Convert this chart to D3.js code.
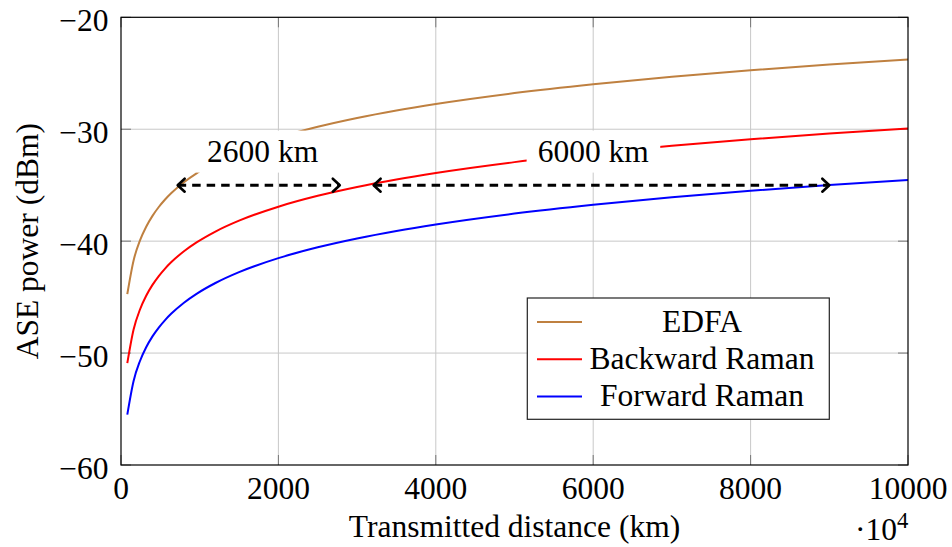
<!DOCTYPE html>
<html>
<head>
<meta charset="utf-8">
<script src="https://cdn.jsdelivr.net/npm/d3@7"></script>
<style>
  html, body { margin: 0; padding: 0; background: #fff; }
  svg { display: block; font-family: "Liberation Serif", "DejaVu Serif", serif; }
</style>
</head>
<body>
<svg id="chart" width="952" height="547"></svg>
<script>
// ---- data ----
const distance = [80,160,240,320,400,480,560,640,800,960,1200,1500,2000,2500,3000,3500,4000,5000,6000,7000,8000,9000,10000];
const edfa = [-44.73,-41.72,-39.96,-38.71,-37.74,-36.95,-36.28,-35.70,-34.73,-33.94,-32.97,-32.00,-30.75,-29.78,-28.99,-28.32,-27.74,-26.77,-25.98,-25.31,-24.73,-24.22,-23.76];
const backwardRaman = [-50.90,-47.89,-46.13,-44.88,-43.91,-43.12,-42.45,-41.87,-40.90,-40.11,-39.14,-38.17,-36.92,-35.95,-35.16,-34.49,-33.91,-32.94,-32.15,-31.48,-30.90,-30.39,-29.93];
const forwardRaman = [-55.50,-52.49,-50.73,-49.48,-48.51,-47.72,-47.05,-46.47,-45.50,-44.71,-43.74,-42.77,-41.52,-40.55,-39.76,-39.09,-38.51,-37.54,-36.75,-36.08,-35.50,-34.99,-34.53];
const seriesNames = ["EDFA", "Backward Raman", "Forward Raman"];
const xTicks = [0, 2000, 4000, 6000, 8000, 10000];
const yTicks = [-60, -50, -40, -30, -20];
const arrowStart = [720, 3210];
const arrowEnd = [2780, 9000];
const arrowLevel = [-35, -35];
const noteText = ["2600 km", "6000 km"];
const noteX = [1800, 6000];
const noteY = [-32, -32];

// ---- layout ----
const W = 952, H = 547;
const L = 121, R = 908, T = 17.3, B = 465;
const FS = 31.5;
const colors = ["#bf8040", "#ff0000", "#0000ff"];

const svg = d3.select("#chart");
const x = d3.scaleLinear().domain([0, 10000]).range([L, R]);
const y = d3.scaleLinear().domain([-60, -20]).range([B, T]);

// grid
const g = svg.append("g");
g.selectAll(".gx").data(xTicks.slice(1, -1)).enter().append("line")
  .attr("x1", d => x(d)).attr("x2", d => x(d)).attr("y1", T).attr("y2", B)
  .attr("stroke", "#c8c8c8").attr("stroke-width", 1);
g.selectAll(".gy").data(yTicks.slice(1, -1)).enter().append("line")
  .attr("y1", d => y(d)).attr("y2", d => y(d)).attr("x1", L).attr("x2", R)
  .attr("stroke", "#c8c8c8").attr("stroke-width", 1);

// ticks (inside)
const tl = 10;
xTicks.forEach(d => {
  g.append("line").attr("x1", x(d)).attr("x2", x(d)).attr("y1", B).attr("y2", B - tl).attr("stroke", "#777").attr("stroke-width", 1);
  g.append("line").attr("x1", x(d)).attr("x2", x(d)).attr("y1", T).attr("y2", T + tl).attr("stroke", "#777").attr("stroke-width", 1);
});
yTicks.forEach(d => {
  g.append("line").attr("y1", y(d)).attr("y2", y(d)).attr("x1", L).attr("x2", L + tl).attr("stroke", "#777").attr("stroke-width", 1);
  g.append("line").attr("y1", y(d)).attr("y2", y(d)).attr("x1", R).attr("x2", R - tl).attr("stroke", "#777").attr("stroke-width", 1);
});

// curves
const seriesVals = [edfa, backwardRaman, forwardRaman];
const line = d3.line().x(d => x(d[0])).y(d => y(d[1])).curve(d3.curveMonotoneX);
seriesVals.forEach((vals, i) => {
  svg.append("path")
    .datum(distance.map((dd, j) => [dd, vals[j]]))
    .attr("d", line)
    .attr("fill", "none")
    .attr("stroke", colors[i])
    .attr("stroke-width", 2);
});

// arrows
arrowStart.forEach((s, i) => {
  const x1 = x(s), x2 = x(arrowEnd[i]), yy = y(arrowLevel[i]);
  svg.append("line").attr("x1", x1).attr("x2", x2).attr("y1", yy).attr("y2", yy)
    .attr("stroke", "#000").attr("stroke-width", 3).attr("stroke-dasharray", "8.5,6");
  svg.append("path").attr("d", `M${x1 + 7},${yy - 6.5} L${x1},${yy} L${x1 + 7},${yy + 6.5}`)
    .attr("fill", "none").attr("stroke", "#000").attr("stroke-width", 2.6).attr("stroke-linejoin", "round").attr("stroke-linecap", "round");
  svg.append("path").attr("d", `M${x2 - 7},${yy - 6.5} L${x2},${yy} L${x2 - 7},${yy + 6.5}`)
    .attr("fill", "none").attr("stroke", "#000").attr("stroke-width", 2.6).attr("stroke-linejoin", "round").attr("stroke-linecap", "round");
});

// notes with white background
noteText.forEach((t, i) => {
  const cx = x(noteX[i]), cy = y(noteY[i]);
  const txt = svg.append("text").attr("x", cx).attr("y", cy + 10.5)
    .attr("text-anchor", "middle").attr("font-size", FS).attr("fill", "#000").text(t);
  const bb = txt.node().getBBox();
  svg.insert("rect", function() { return txt.node(); })
    .attr("x", bb.x - 11).attr("width", bb.width + 22)
    .attr("y", cy - 21).attr("height", 42)
    .attr("fill", "#fff");
});

// axis frame
svg.append("rect").attr("x", L).attr("y", T).attr("width", R - L).attr("height", B - T)
  .attr("fill", "none").attr("stroke", "#000").attr("stroke-width", 1.2);

// tick labels
svg.selectAll(".xl").data(xTicks).enter().append("text")
  .attr("x", d => x(d)).attr("y", B + 33.5).attr("text-anchor", "middle")
  .attr("font-size", FS).text(d => d);
svg.selectAll(".yl").data(yTicks).enter().append("text")
  .attr("x", 108.5).attr("y", d => y(d) + 13.5).attr("text-anchor", "end")
  .attr("font-size", FS).text(d => d < 0 ? "\u2212" + Math.abs(d) : d);

// axis labels
svg.append("text").attr("x", (L + R) / 2).attr("y", 537).attr("text-anchor", "middle")
  .attr("font-size", FS).text("Transmitted distance (km)");
svg.append("text").attr("transform", `translate(38,${(T + B) / 2}) rotate(-90)`)
  .attr("text-anchor", "middle").attr("font-size", FS).text("ASE power (dBm)");
const sc = svg.append("text").attr("x", 897).attr("y", 540).attr("text-anchor", "end").attr("font-size", FS);
sc.append("tspan").text("\u00b710");
svg.append("text").attr("x", 897).attr("y", 528).attr("font-size", FS * 0.72).text("4");

// legend
const lg = svg.append("g");
lg.append("rect").attr("x", 527.3).attr("y", 298).attr("width", 302).attr("height", 121.3)
  .attr("fill", "#fff").attr("stroke", "#222").attr("stroke-width", 1.2);
seriesNames.forEach((n, i) => {
  const yy = 322 + i * 37.2;
  lg.append("line").attr("x1", 537).attr("x2", 582).attr("y1", yy).attr("y2", yy)
    .attr("stroke", colors[i]).attr("stroke-width", 2);
  lg.append("text").attr("x", 702).attr("y", yy + 10).attr("text-anchor", "middle")
    .attr("font-size", FS).text(n);
});
</script>
</body>
</html>
